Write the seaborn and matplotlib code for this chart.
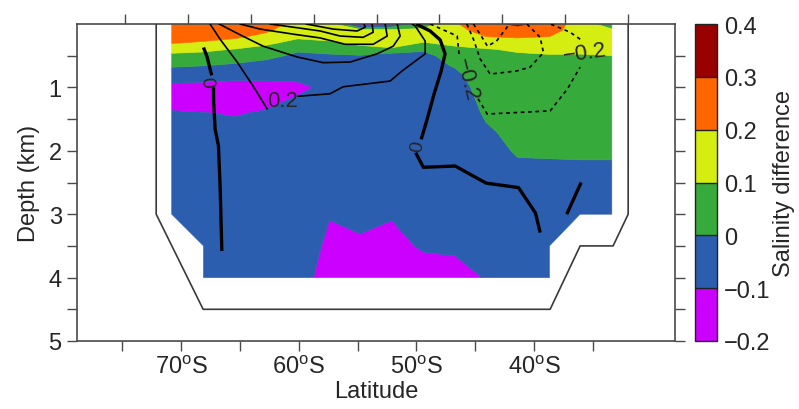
import numpy as np
import pandas as pd
import matplotlib
matplotlib.use("Agg")
import matplotlib.pyplot as plt
import seaborn as sns
from matplotlib.colors import ListedColormap, BoundaryNorm
from matplotlib.cm import ScalarMappable

# ---------------- data ----------------
latitudes = [-70.8, -68.1, -65.4, -62.8, -60.1, -57.4, -54.8, -52.1,
             -49.4, -46.7, -44.1, -41.4, -38.7, -36.1, -33.4]
depths = [0, 0.1, 0.2, 0.3, 0.4, 0.5, 0.65, 0.8, 1.0, 1.2, 1.4, 1.7,
          2.0, 2.5, 3.0, 3.5, 4.0]
nan = np.nan
# salinity-difference profile (top to bottom) at each latitude
profiles = [
    [0.26, 0.25, 0.225, 0.203, 0.136, 0.078, 0.013, -0.048, -0.125, -0.125, -0.095, -0.08, -0.07, -0.06, -0.06, nan, nan],
    [0.26, 0.245, 0.22, 0.193, 0.121, 0.07, 0.004, -0.058, -0.13, -0.13, -0.099, -0.08, -0.07, -0.06, -0.06, -0.06, -0.06],
    [0.25, 0.235, 0.215, 0.164, 0.096, 0.052, -0.012, -0.069, -0.135, -0.13, -0.105, -0.08, -0.07, -0.06, -0.06, -0.06, -0.06],
    [0.24, 0.215, 0.176, 0.118, 0.068, 0.023, -0.03, -0.076, -0.125, -0.12, -0.094, -0.08, -0.07, -0.06, -0.06, -0.06, -0.06],
    [0.17, 0.145, 0.115, 0.071, 0.012, -0.016, -0.046, -0.076, -0.118, -0.09, -0.08, -0.075, -0.07, -0.065, -0.065, -0.06, -0.06],
    [0.16, 0.145, 0.125, 0.088, 0.029, -0.01, -0.04, -0.06, -0.08, -0.075, -0.07, -0.065, -0.065, -0.075, -0.097, -0.113, -0.14],
    [-0.2, 0.15, 0.14, 0.12, 0.067, -0.005, -0.03, -0.045, -0.06, -0.06, -0.06, -0.06, -0.06, -0.07, -0.09, -0.106, -0.13],
    [-0.12, 0.13, 0.14, 0.13, 0.09, -0.06, -0.05, -0.05, -0.05, -0.05, -0.05, -0.05, -0.05, -0.06, -0.097, -0.112, -0.13],
    [0.05, 0.12, 0.13, 0.095, 0.015, -0.03, -0.04, -0.05, -0.05, -0.05, -0.05, -0.05, -0.05, -0.06, -0.08, -0.095, -0.12],
    [0.19, 0.17, 0.15, 0.12, 0.08, 0.05, 0.01, -0.02, -0.04, -0.05, -0.05, -0.05, -0.05, -0.06, -0.08, -0.093, -0.115],
    [0.27, 0.24, 0.2, 0.14, 0.095, 0.085, 0.07, 0.06, 0.04, 0.025, 0.01, -0.01, -0.03, -0.05, -0.06, -0.08, -0.0976],
    [0.32, 0.26, 0.21, 0.16, 0.11, 0.09, 0.08, 0.07, 0.06, 0.05, 0.04, 0.02, 0.008, -0.03, -0.05, -0.06, -0.07],
    [0.26, 0.23, 0.2, 0.16, 0.12, 0.095, 0.085, 0.075, 0.065, 0.055, 0.045, 0.03, 0.01, -0.03, -0.05, -0.06, -0.07],
    [0.15, 0.16, 0.15, 0.135, 0.115, 0.095, 0.085, 0.075, 0.065, 0.055, 0.045, 0.03, 0.012, -0.03, -0.05, nan, nan],
    [0.05, 0.115, 0.14, 0.13, 0.115, 0.1, 0.085, 0.075, 0.065, 0.055, 0.045, 0.03, 0.012, -0.03, -0.05, nan, nan],
]
levels = [-0.2, -0.1, 0, 0.1, 0.2, 0.3, 0.4]
level_colors = ["#cc00ff", "#2c5eb0", "#36ab3b", "#d5ed10", "#ff6600", "#990000"]
cbar_labels = ["\u22120.2", "\u22120.1", "0", "0.1", "0.2", "0.3", "0.4"]

# overlaid contour lines (latitude, depth)
zero_left_lat_a = [-68.10, -67.79, -67.54, -67.40]
zero_left_dep_a = [0.37, 0.52, 0.71, 0.81]
zero_left_lat_b = [-67.25, -67.24, -67.11, -66.83, -66.69, -66.54]
zero_left_dep_b = [1.00, 1.23, 1.66, 1.92, 2.55, 3.58]
zero_mid_lat_a = [-50.03, -48.84, -47.99, -47.57, -47.90, -48.50, -49.09, -49.60]
zero_mid_dep_a = [0.0, 0.11, 0.25, 0.47, 0.74, 1.10, 1.50, 1.82]
zero_mid_lat_b = [-50.07, -49.41, -46.71, -44.08, -41.33, -39.89, -39.49]
zero_mid_dep_b = [2.03, 2.26, 2.24, 2.51, 2.58, 2.98, 3.29]
zero_right_lat = [-36.01, -37.23]
zero_right_dep = [2.50, 3.00]

pos02_lat_a = [-67.54, -66.69, -65.24, -63.88, -62.69]
pos02_dep_a = [0.0, 0.24, 0.60, 0.98, 1.34]
pos02_lat_b = [-60.06, -57.34, -56.23, -52.24, -51.22, -49.26, -49.26, -50.11, -50.37]
pos02_dep_b = [1.14, 1.10, 0.99, 0.90, 0.74, 0.47, 0.27, 0.03, 0.0]
pos04_lat = [-66.77, -64.99, -63.03, -60.14, -57.93, -55.64, -53.34, -51.98, -51.39, -51.64]
pos04_dep = [0.0, 0.17, 0.35, 0.52, 0.61, 0.60, 0.47, 0.35, 0.19, 0.0]
pos06_lat = [-64.99, -63.29, -60.48, -58.19, -56.06, -53.68, -52.49, -52.66]
pos06_dep = [0.0, 0.08, 0.16, 0.22, 0.32, 0.32, 0.19, 0.0]
pos08_lat = [-62.44, -60.48, -58.19, -56.49, -54.53, -53.68, -53.77]
pos08_dep = [0.0, 0.05, 0.11, 0.19, 0.21, 0.13, 0.0]
pos10_lat = [-59.38, -57.08, -55.04, -54.36, -54.45]
pos10_dep = [0.0, 0.08, 0.11, 0.05, 0.0]

neg02_lat_a = [-48.84, -46.54, -46.37]
neg02_dep_a = [0.0, 0.19, 0.50]
neg02_lat_b = [-44.76, -43.99, -38.64, -37.19, -36.09]
neg02_dep_b = [1.18, 1.42, 1.37, 1.03, 0.68]
neg02_lat_c = [-36.09, -36.94, -38.22, -38.64]
neg02_dep_c = [0.24, 0.13, 0.03, 0.0]
neg04_lat = [-45.72, -45.16, -44.59, -43.74, -41.47, -40.34, -39.21, -39.49, -40.62]
neg04_dep = [0.0, 0.24, 0.55, 0.79, 0.74, 0.68, 0.45, 0.21, 0.0]
neg06_lat = [-45.16, -44.56, -43.97, -43.20, -42.30, -42.17]
neg06_dep = [0.0, 0.17, 0.35, 0.27, 0.05, 0.0]

# ocean floor outline
floor_lat = [-72.12, -72.12, -68.13, -38.64, -36.09, -33.29, -32.01, -32.01]
floor_dep = [0.0, 3.0, 4.5, 4.5, 3.5, 3.5, 3.0, 0.0]

xtick_vals = [-70, -60, -50, -40]
xtick_labels = ["70$^{\\mathrm{o}}$S", "60$^{\\mathrm{o}}$S", "50$^{\\mathrm{o}}$S", "40$^{\\mathrm{o}}$S"]
xminor_vals = [-75, -65, -55, -45, -35]
ytick_vals = [1, 2, 3, 4, 5]
yminor_vals = [0.5, 1.5, 2.5, 3.5, 4.5]
top_tick_vals = [0, 1, 2, 3, 4, 5, 6, 7, 8]

# ---------------- style ----------------
sns.set_theme(style="ticks")
plt.rcParams["font.family"] = ["Liberation Sans", "DejaVu Sans"]
plt.rcParams["mathtext.fontset"] = "custom"
plt.rcParams["mathtext.rm"] = "Liberation Sans"
plt.rcParams["mathtext.it"] = "Liberation Sans:italic"
plt.rcParams["axes.unicode_minus"] = True

FS = 17
spine_c = "#4a4a4a"

fig = plt.figure(figsize=(7.99, 4.10), dpi=100)
ax = fig.add_axes([77 / 799, 1 - 342 / 410, (675 - 77) / 799, (342 - 25) / 410])
ax.set_facecolor("white")

df = pd.DataFrame(np.array(profiles).T, index=depths, columns=latitudes)
Z = np.ma.masked_invalid(df.values)
cmap = ListedColormap(sns.color_palette(level_colors))
norm = BoundaryNorm(levels, cmap.N)
cs = ax.contourf(df.columns.values, df.index.values, Z, levels=levels,
                 cmap=cmap, norm=norm, antialiased=True)
cs.set_edgecolor("face")
cs.set_linewidth(0.4)

# outline of the ocean floor
ax.plot(floor_lat, floor_dep, color="#3a3a3a", lw=1.2, zorder=3)

thin = dict(color="black", lw=1.2, zorder=4, solid_joinstyle="round")
thick = dict(color="black", lw=2.4, zorder=4, solid_joinstyle="round", solid_capstyle="butt")
dash = dict(color="black", lw=1.2, zorder=4, linestyle=(0, (2.2, 2.2)))

for la, de in [(zero_left_lat_a, zero_left_dep_a), (zero_left_lat_b, zero_left_dep_b),
               (zero_mid_lat_a, zero_mid_dep_a), (zero_mid_lat_b, zero_mid_dep_b),
               (zero_right_lat, zero_right_dep)]:
    ax.plot(la, de, **thick)
for la, de in [(pos02_lat_a, pos02_dep_a), (pos02_lat_b, pos02_dep_b),
               (pos04_lat, pos04_dep), (pos06_lat, pos06_dep),
               (pos08_lat, pos08_dep), (pos10_lat, pos10_dep)]:
    ax.plot(la, de, **thin)
for la, de in [(neg02_lat_a, neg02_dep_a), (neg02_lat_b, neg02_dep_b),
               (neg02_lat_c, neg02_dep_c), (neg04_lat, neg04_dep),
               (neg06_lat, neg06_dep)]:
    ax.plot(la, de, **dash)

# contour labels
ax.text(-61.42, 1.21, "0.2", fontsize=16, ha="center", va="center", zorder=5)
ax.text(-45.75, 0.86, "\u22120.2", fontsize=16, ha="center", va="center",
        rotation=-76, zorder=5)
ax.text(-35.70, 0.45, "\u22120.2", fontsize=16, ha="center", va="center",
        rotation=8, zorder=5)
ax.text(-67.33, 0.905, "0", fontsize=14, ha="center", va="center", rotation=95, zorder=5)
ax.text(-49.85, 1.925, "0", fontsize=14, ha="center", va="center", rotation=80, zorder=5)

ax.set_xlim(-78.85, -28.03)
ax.set_ylim(5, 0)

ax.set_xticks(xtick_vals)
ax.set_xticklabels(xtick_labels)
ax.set_xticks(xminor_vals, minor=True)
ax.set_yticks(ytick_vals)
ax.set_yticklabels([str(v) for v in ytick_vals])
ax.set_yticks(yminor_vals, minor=True)
ax.tick_params(which="both", direction="out", length=7, width=1.0, color=spine_c,
               labelsize=FS, top=False, right=True, bottom=True, left=True, pad=4)
for s in ax.spines.values():
    s.set_color(spine_c)
    s.set_linewidth(1.2)
    s.set_visible(True)
ax.set_xlabel("Latitude", fontsize=FS, labelpad=1)
ax.set_ylabel("Depth (km)", fontsize=FS, labelpad=6)

# top axis (model grid ticks, unlabeled)
ax2 = ax.twiny()
ax2.set_xlim(-0.763, 8.744)
ax2.set_xticks(top_tick_vals)
ax2.set_xticklabels([])
ax2.tick_params(axis="x", which="both", direction="out", length=7, width=1.0,
                color=spine_c, top=True, bottom=False, labeltop=False)
for s in ax2.spines.values():
    s.set_visible(False)

# colorbar
cax = fig.add_axes([695 / 799, 1 - 342 / 410, 22 / 799, (342 - 25) / 410])
sm = ScalarMappable(norm=norm, cmap=cmap)
cb = fig.colorbar(sm, cax=cax, ticks=levels, drawedges=True, spacing="uniform")
cb.ax.set_yticklabels(cbar_labels)
cb.ax.tick_params(length=0, labelsize=FS, pad=5)
cb.outline.set_linewidth(1.0)
cb.outline.set_edgecolor("#222222")
cb.dividers.set_color("#222222")
cb.dividers.set_linewidth(1.0)
cb.set_label("Salinity difference", fontsize=FS, labelpad=2)

fig.savefig("out.png", dpi=100)
